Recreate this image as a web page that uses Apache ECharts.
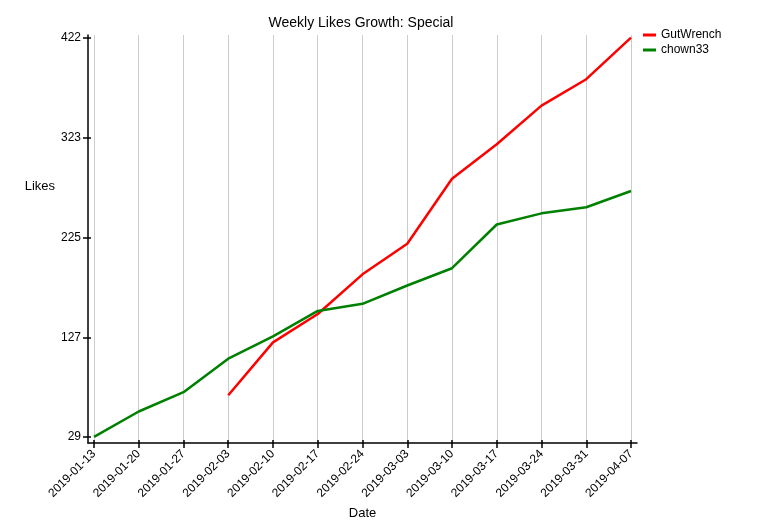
<!DOCTYPE html>
<html>
<head>
<meta charset="utf-8">
<script src="https://cdn.jsdelivr.net/npm/echarts@6/dist/echarts.min.js"></script>
<style>
	html, body { margin: 0; padding: 0; background: #fff; }
	#lineChart { width: 775px; height: 525px; }
</style>
</head>
<body>
<div id="lineChart"></div>
<script>
'use strict';

// weekly dates on the x axis
var weeks = ['2019-01-13', '2019-01-20', '2019-01-27', '2019-02-03', '2019-02-10',
		'2019-02-17', '2019-02-24', '2019-03-03', '2019-03-10', '2019-03-17',
		'2019-03-24', '2019-03-31', '2019-04-07'];

// likes per week, null where the user had no data yet
var gutWrench = [null, null, null, 70, 122, 150, 189, 219, 283, 317, 355, 381, 422];
var chown33 = [29, 54, 73, 106, 128, 153, 160, 178, 195, 238, 249, 255, 271];

var yTicks = [29, 127, 225, 323, 422];

var fontFamily = '"Liberation Sans", Arial, Helvetica, sans-serif';

function toPairs(values) {
	var out = [];
	values.forEach(function (v, i) {
		if (v !== null) { out.push([i, v]); }
	});
	return out;
}

var weekIdx = weeks.map(function (d, i) { return i; });

var chart = echarts.init(document.getElementById('lineChart'));

var axisLine = { show: true, onZero: false, lineStyle: { color: '#000', width: 1.5 } };

var options = {
	animation: false,
	textStyle: { fontFamily: fontFamily },
	color: ['#ff0000', '#008000'],
	title: {
		text: 'Weekly Likes Growth: Special',
		left: 361,
		textAlign: 'center',
		top: 16,
		padding: 0,
		textStyle: { fontSize: 14, fontWeight: 'normal', color: '#000', fontFamily: fontFamily }
	},
	legend: {
		orient: 'vertical',
		left: 643,
		top: 29,
		padding: 0,
		itemGap: 3,
		itemWidth: 13,
		itemHeight: 3,
		icon: 'rect',
		textStyle: { fontSize: 12, color: '#000', fontFamily: fontFamily },
		data: ['GutWrench', 'chown33']
	},
	grid: { left: 88, right: 138, top: 35, bottom: 82, containLabel: false },
	xAxis: [
		{
			type: 'value',
			min: -0.134,
			max: 12.134,
			name: 'Date',
			nameLocation: 'middle',
			nameGap: 52,
			nameTextStyle: { fontSize: 13, color: '#000' },
			axisLine: axisLine,
			axisTick: { show: true, length: 5, customValues: weekIdx, lineStyle: { color: '#000', width: 1.5 } },
			axisLabel: {
				customValues: weekIdx,
				rotate: 45,
				margin: 9,
				fontSize: 12,
				color: '#000',
				formatter: function (v) { return weeks[Math.round(v)]; }
			},
			splitLine: { show: true, lineStyle: { color: '#cccccc', width: 1 } }
		},
		{
			type: 'value',
			min: -0.134,
			max: 12.134,
			position: 'bottom',
			axisLine: { show: false, onZero: false },
			axisTick: { show: true, inside: true, length: 3, customValues: weekIdx, lineStyle: { color: '#000', width: 1.5 } },
			axisLabel: { show: false },
			splitLine: { show: false }
		}
	],
	yAxis: [
		{
			type: 'value',
			min: 23,
			max: 424.5,
			name: '{a|Likes}\n{b| }',
			nameLocation: 'middle',
			nameRotate: 0,
			nameGap: 32,
			nameTextStyle: {
				fontSize: 13,
				color: '#000',
				rich: {
					a: { fontSize: 13, color: '#000', fontFamily: fontFamily },
					b: { height: 106 }
				}
			},
			axisLine: axisLine,
			axisTick: { show: true, length: 5, customValues: yTicks, lineStyle: { color: '#000', width: 1.5 } },
			axisLabel: { customValues: yTicks, margin: 7, fontSize: 12, color: '#000' },
			splitLine: { show: false }
		},
		{
			type: 'value',
			min: 23,
			max: 424.5,
			position: 'left',
			axisLine: { show: false, onZero: false },
			axisTick: { show: true, inside: true, length: 3, customValues: yTicks, lineStyle: { color: '#000', width: 1.5 } },
			axisLabel: { show: false },
			splitLine: { show: false }
		}
	],
	series: [
		{
			name: 'GutWrench',
			type: 'line',
			showSymbol: false,
			lineStyle: { width: 2.5 },
			data: toPairs(gutWrench)
		},
		{
			name: 'chown33',
			type: 'line',
			showSymbol: false,
			lineStyle: { width: 2.5 },
			data: toPairs(chown33)
		}
	]
};

chart.setOption(options);
</script>
</body>
</html>
